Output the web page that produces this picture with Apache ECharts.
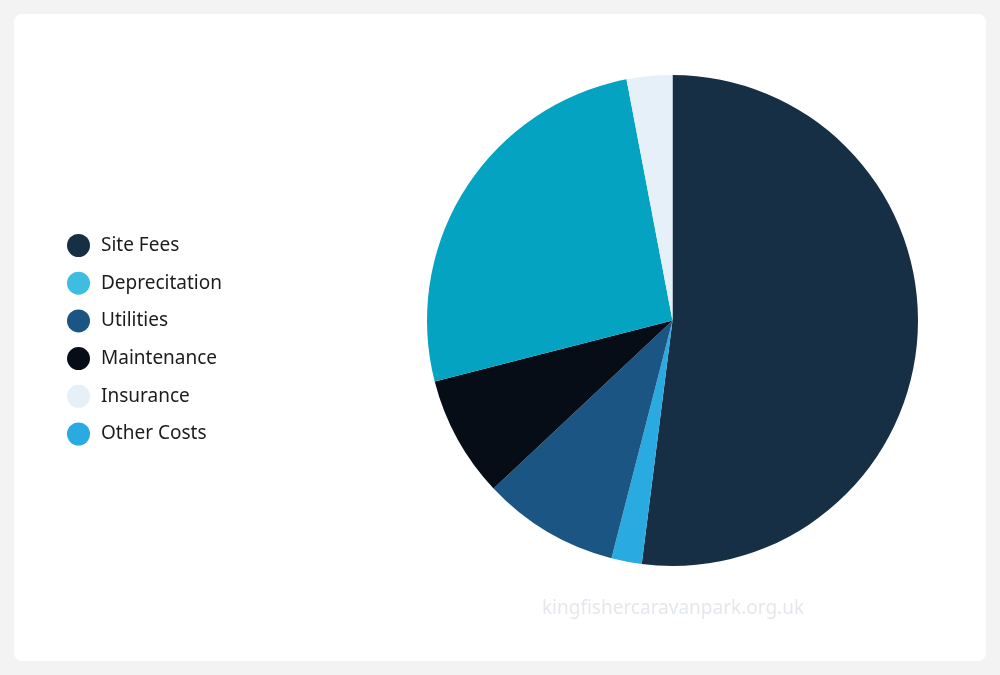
<!DOCTYPE html>
<html>
<head>
<meta charset="utf-8">
<script src="https://cdn.jsdelivr.net/npm/echarts@6/dist/echarts.min.js"></script>
<style>
html,body{margin:0;padding:0;background:#f3f3f3;}
#chart{width:1000px;height:675px;}
</style>
</head>
<body>
<div id="chart"></div>
<script>
// Slices in drawing order (clockwise from 12 o'clock)
const sliceNames = ['Site Fees', 'Other Costs', 'Utilities', 'Maintenance', 'Deprecitation', 'Insurance'];
const sliceValues = [52, 2, 9, 8, 26, 3];
const sliceColors = ['#172f45', '#29abe2', '#1b5583', '#070d17', '#05a3c2', '#e5f0f9'];
// Legend order
const legendNames = ['Site Fees', 'Deprecitation', 'Utilities', 'Maintenance', 'Insurance', 'Other Costs'];
const legendColors = ['#172f45', '#3fbde0', '#1b5583', '#070d17', '#e5f0f9', '#29abe2'];
const watermark = 'kingfishercaravanpark.org.uk';

const chart = echarts.init(document.getElementById('chart'));
chart.setOption({
  backgroundColor: '#f3f3f3',
  animation: false,
  graphic: [
    {type: 'rect', z: -10, shape: {x: 14, y: 14, width: 972, height: 647, r: 8}, style: {fill: '#ffffff'}},
    {type: 'text', z: 10, x: 673, y: 609, style: {text: watermark, fill: '#e4e8ed', font: '19px "Noto Sans"', align: 'center', verticalAlign: 'middle'}}
  ],
  legend: {
    orient: 'vertical',
    left: 62,
    top: 229,
    icon: 'circle',
    itemWidth: 35,
    itemHeight: 23,
    itemGap: 14.7,
    selectedMode: false,
    textStyle: {color: '#1c1c1c', fontSize: 19, fontFamily: 'Noto Sans'},
    data: legendNames.map((n, i) => ({name: n, itemStyle: {color: legendColors[i]}}))
  },
  series: [{
    type: 'pie',
    center: [672.5, 320.5],
    radius: 245.5,
    startAngle: 90,
    clockwise: true,
    label: {show: false},
    labelLine: {show: false},
    emphasis: {disabled: true},
    itemStyle: {borderWidth: 0},
    data: sliceNames.map((n, i) => ({name: n, value: sliceValues[i], itemStyle: {color: sliceColors[i]}}))
  }]
});
</script>
</body>
</html>
